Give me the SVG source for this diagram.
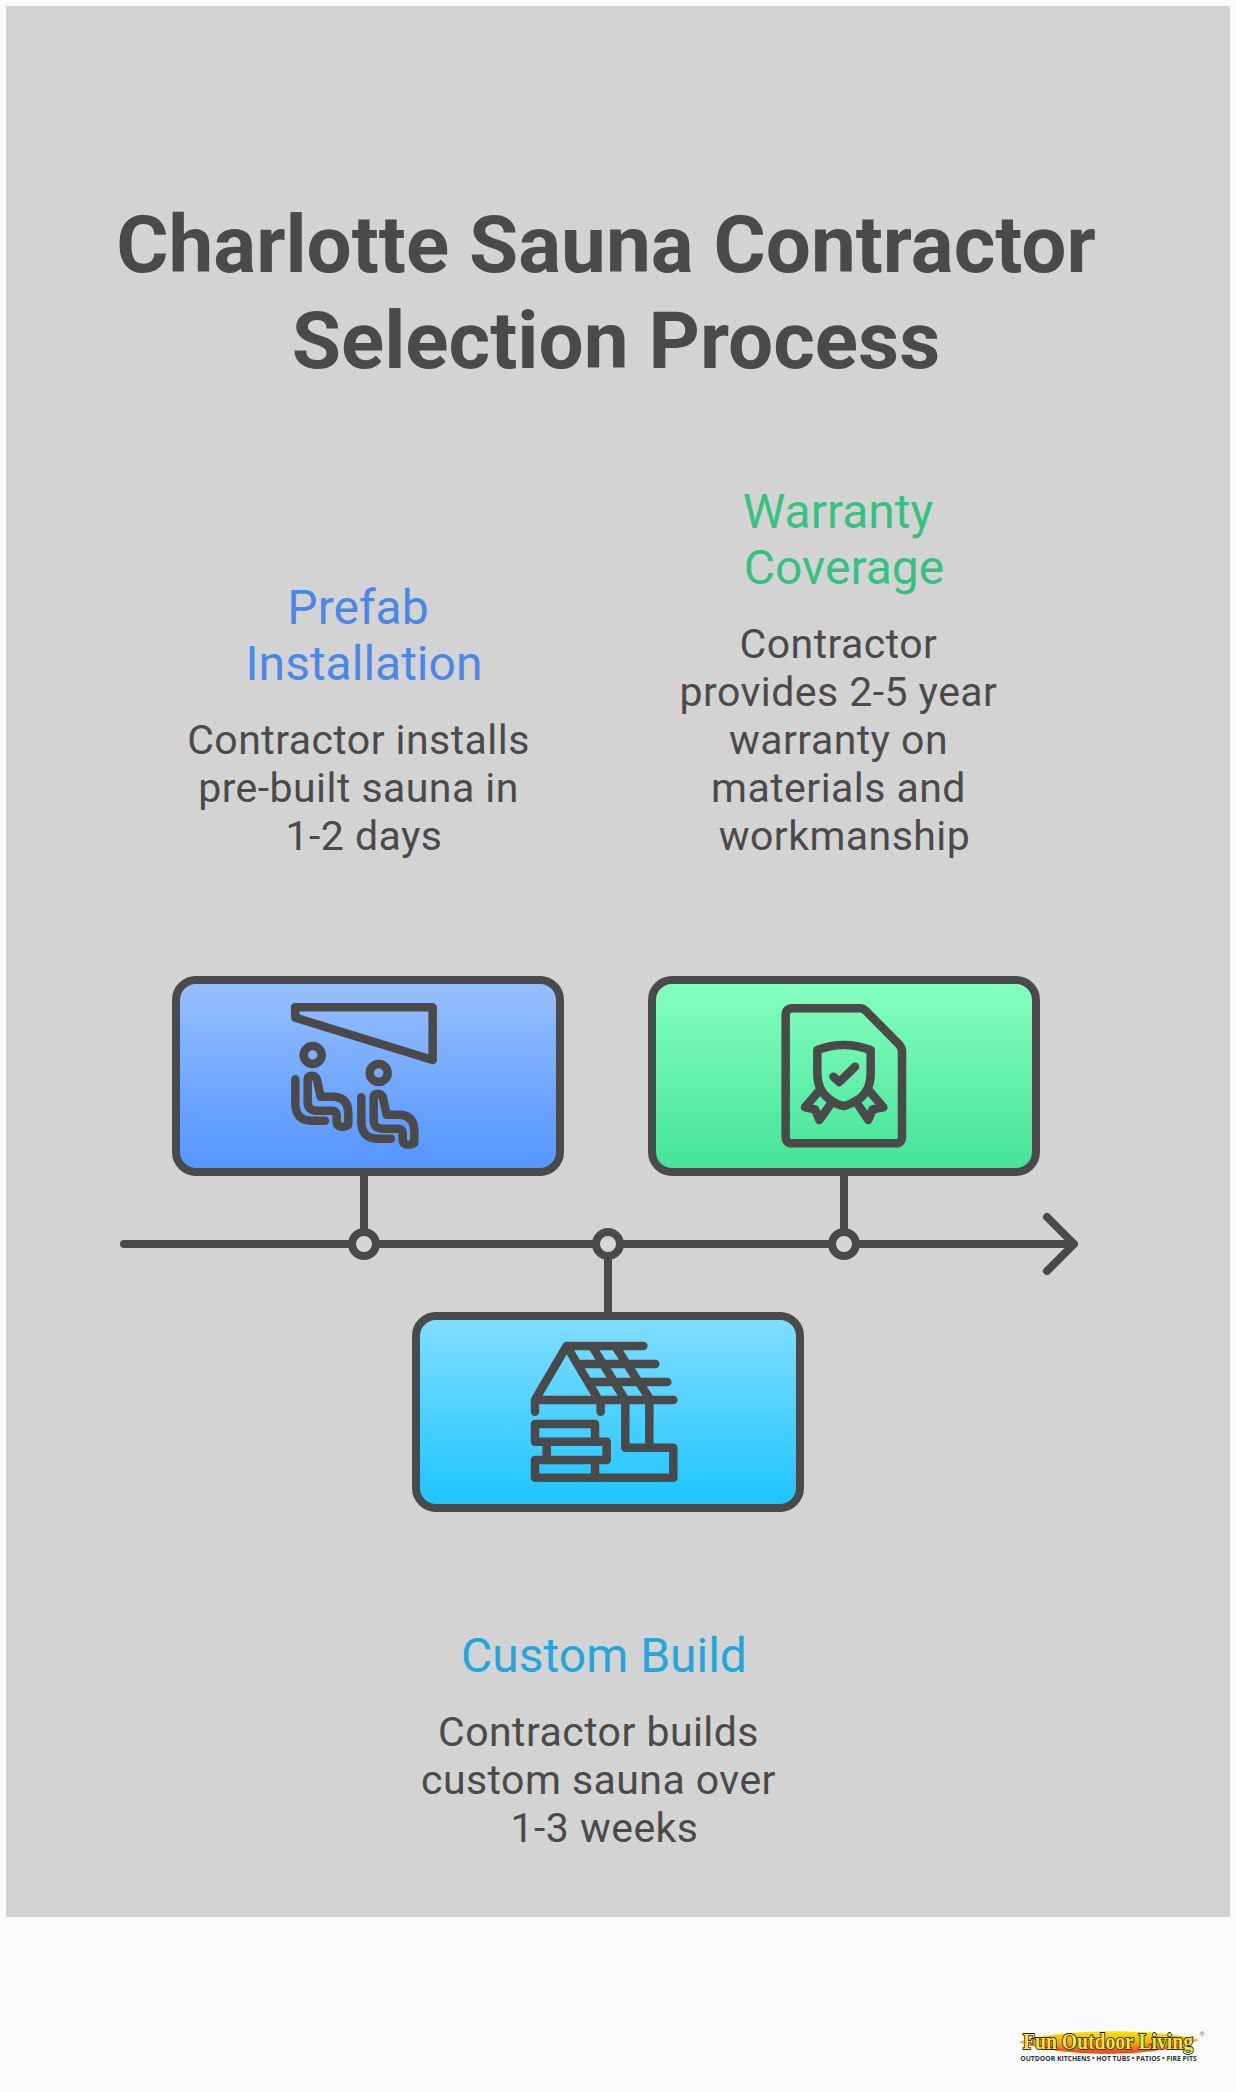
<svg xmlns="http://www.w3.org/2000/svg" width="1236" height="2092" viewBox="0 0 1236 2092">
<style>
text{font-family:Roboto,"Liberation Sans",sans-serif;text-anchor:middle}
.t{font-size:80px;font-weight:700;fill:#4a4a4a}
.h{font-size:48px}
.b{font-size:41px;letter-spacing:.45px;fill:#4a4a4a}
.box{stroke:#4a4a4a;stroke-width:8}
.i{fill:none;stroke:#4a4a4a;stroke-width:25.5;stroke-linecap:round;stroke-linejoin:round}
.c{fill:none;stroke:#4a4a4a;stroke-width:8;stroke-linecap:round;stroke-linejoin:round}
.d{fill:#d6d6d6;stroke:#4a4a4a;stroke-width:8}
</style>
<defs>
<linearGradient id="gb" x1="0" y1="0" x2="0" y2="1"><stop offset="0" stop-color="#98c0ff"/><stop offset="1" stop-color="#5294ff"/></linearGradient>
<linearGradient id="gg" x1="0" y1="0" x2="0" y2="1"><stop offset="0" stop-color="#86ffc0"/><stop offset="1" stop-color="#44e298"/></linearGradient>
<linearGradient id="gc" x1="0" y1="0" x2="0" y2="1"><stop offset="0" stop-color="#82deff"/><stop offset="1" stop-color="#1cc4ff"/></linearGradient>
<linearGradient id="gl" x1="0" y1="0" x2="0" y2="1"><stop offset="0" stop-color="#f8e800"/><stop offset=".55" stop-color="#f6a010"/><stop offset="1" stop-color="#e8401c"/></linearGradient>
<g id="person">
<circle cx="488" cy="315" r="27"/>
<path d="M436,388V460Q436,512 485,512H525"/>
<path d="M473,388Q473,377 485,377Q497,377 501,390L512,440H555Q595,445 595,490V520Q595,530 578,530Q560,530 560,515V495Q560,482 545,482H500Q473,482 473,455Z"/>
</g>
</defs>
<rect width="1236" height="2092" fill="#f9fafc"/>
<rect x="6" y="6" width="1224" height="1911" fill="#d3d3d3"/>
<g id="title">
<text class="t" x="606" y="272">Charlotte Sauna Contractor</text>
<text class="t" x="616" y="368">Selection Process</text>
</g>
<g id="connectors">
<path class="c" d="M124,1244H1074M1047,1217L1074,1244L1047,1271"/>
<path class="c" d="M364,1176V1232M844,1176V1232M608,1256V1312" stroke-linecap="butt"/>
<circle class="d" cx="364" cy="1244" r="12"/>
<circle class="d" cx="608" cy="1244" r="12"/>
<circle class="d" cx="844" cy="1244" r="12"/>
</g>
<g id="node-prefab">
<text class="h" fill="#4a87e8" x="358" y="624">Prefab</text>
<text class="h" fill="#4a87e8" x="364" y="680">Installation</text>
<text class="b" x="358.5" y="754">Contractor installs</text>
<text class="b" x="358.5" y="802">pre-built sauna in</text>
<text class="b" x="364" y="850">1-2 days</text>
<rect class="box" x="176" y="980" width="384" height="192" rx="20" fill="url(#gb)"/>
<g class="i" transform="translate(150 950) scale(.33333)">
<path d="M435,172H848V330L436,203Z"/>
<use href="#person"/>
<use href="#person" x="198" y="54"/>
</g>
</g>
<g id="node-warranty">
<text class="h" fill="#36c27e" x="838" y="528">Warranty</text>
<text class="h" fill="#36c27e" x="844" y="584">Coverage</text>
<text class="b" x="838.5" y="658">Contractor</text>
<text class="b" x="838.5" y="706">provides 2-5 year</text>
<text class="b" x="838.5" y="754">warranty on</text>
<text class="b" x="838.5" y="802">materials and</text>
<text class="b" x="844.5" y="850">workmanship</text>
<rect class="box" x="652" y="980" width="384" height="192" rx="20" fill="url(#gg)"/>
<g class="i" transform="translate(630 950) scale(.33333)">
<path d="M490,175H690Q700,175 708,183L806,282Q816,292 816,305V560Q816,580 796,580H487Q467,580 467,560V195Q467,175 487,175Z"/>
<path d="M562,300Q640,270 722,300V370Q722,420 690,445Q660,465 642,468Q620,465 595,445Q562,420 562,370Z"/>
<path d="M610,380L628,396L675,350"/>
<path d="M565,425L525,472L555,478L568,510L600,465M720,425L760,472L728,478L715,510L685,465"/>
</g>
</g>
<g id="node-custom">
<rect class="box" x="416" y="1316" width="384" height="192" rx="20" fill="url(#gc)"/>
<g class="i" transform="translate(400 1220) scale(.33333)">
<path d="M405,575V540L500,378H730M500,378L590,530M405,540H820M535,432H766M565,486H802M580,385L670,530M650,385L745,530M602,545V575"/>
<path d="M676,545V683H820V773H405V720H620V665H405V612H585V665M440,665V720M585,720V773M748,545V683"/>
</g>
<text class="h" fill="#22a6dc" x="604" y="1672">Custom Build</text>
<text class="b" x="598.5" y="1746">Contractor builds</text>
<text class="b" x="598.5" y="1794">custom sauna over</text>
<text class="b" x="604.5" y="1842">1-3 weeks</text>
</g>
<g id="logo">
<path d="M1019,2042C1060,2028 1160,2028 1199,2040C1160,2058 1060,2058 1019,2042Z" fill="url(#gl)"/>
<text transform="translate(1108 2049) scale(.855 1)" font-size="23" font-weight="700" fill="#f2e63c" stroke="#222" stroke-width="1.8" paint-order="stroke" style="font-family:'Liberation Serif',serif">Fun Outdoor Living</text>
<text x="1202" y="2036" font-size="6" fill="#666">®</text>
<text x="1108.5" y="2061" font-size="6.8" font-weight="700" fill="#333" style="font-family:'Open Sans',sans-serif">OUTDOOR KITCHENS • HOT TUBS • PATIOS • FIRE PITS</text>
</g>
</svg>
